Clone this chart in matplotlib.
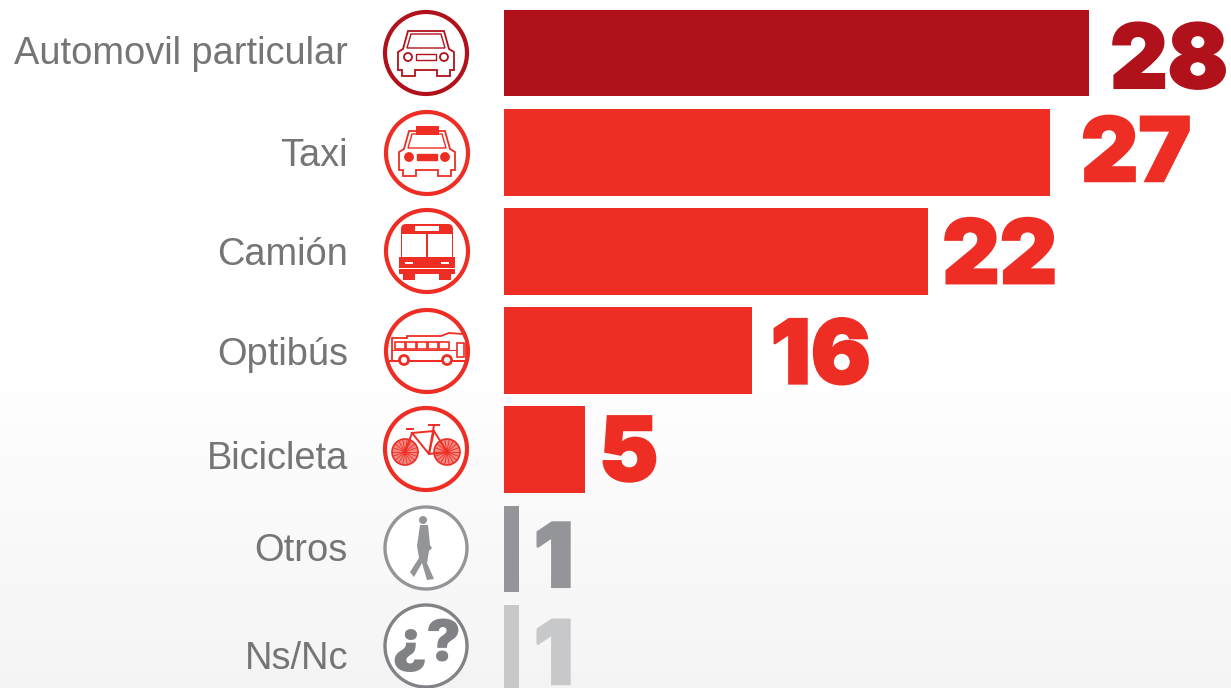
import matplotlib
matplotlib.use("Agg")
import matplotlib.pyplot as plt
import matplotlib.patheffects as pe
import numpy as np
from matplotlib.patches import Circle, Polygon, Rectangle, FancyBboxPatch

categories = ["Automovil particular", "Taxi", "Camión", "Optibús", "Bicicleta", "Otros", "Ns/Nc"]
value_labels = [28, 27, 22, 16, 5, 1, 1]
# the drawn bars are not proportional to their labels, lengths read off the picture
bar_lengths = [28.0, 26.12, 20.3, 11.85, 3.88, 0.7, 0.7]

DARK = "#b0111b"
RED = "#ee2e24"
GREY = "#939598"
LIGHT = "#c7c8ca"
bar_colors = [DARK, RED, RED, RED, RED, GREY, LIGHT]
circle_colors = [DARK, RED, RED, RED, RED, GREY, "#808285"]

W, H = 1231, 688
X0, PX_UNIT = 504, 20.9
Y0, ROW = 53, 99.2

fig = plt.figure(figsize=(W / 100, H / 100), dpi=100)

# pixel overlay for background, labels and icons
px = fig.add_axes([0, 0, 1, 1])
px.set_xlim(0, W)
px.set_ylim(H, 0)
px.axis("off")

grad = np.concatenate([np.ones(330), np.linspace(1, 0.955, H - 330)]).reshape(-1, 1)
px.imshow(grad, extent=[0, W, H, 0], cmap="gray", vmin=0, vmax=1, aspect="auto", zorder=0)

# bars
ax = fig.add_axes([0, 0, 1, 1])
ax.patch.set_alpha(0)
ax.set_xlim(-X0 / PX_UNIT, (W - X0) / PX_UNIT)
ax.set_ylim((H - Y0) / ROW, -Y0 / ROW)
ax.axis("off")
ypos = np.arange(len(categories))
ax.barh(ypos, bar_lengths, height=0.875, color=bar_colors)

label_dx = [21, 31, 14, 19, 14, 15, 15]
label_base = [35, 29, 32, 33, 31, 38, 36]
text_base = [11, 14, 14, 14, 19, 12, 21]
icon_centers = [(426, 53), (427, 153), (427, 251), (427, 351), (426, 449), (426, 548), (426, 646)]

for i, (name, val) in enumerate(zip(categories, value_labels)):
    yc = Y0 + ROW * i
    end = X0 + bar_lengths[i] * PX_UNIT
    px.text(348, yc + text_base[i], name, ha="right", va="baseline", fontsize=27.4,
            family="Liberation Sans", color="#747577", zorder=3)
    t = px.text(end + label_dx[i], yc + label_base[i], str(val), ha="left", va="baseline",
                fontsize=64, fontweight=900, family="Inter",
                color=bar_colors[i], zorder=3, clip_on=False)
    t.set_path_effects([pe.withStroke(linewidth=1.5, foreground=bar_colors[i], joinstyle="miter")])


def ring(cx, cy, col, lw):
    px.add_patch(Circle((cx, cy), 41, fc="white", ec=col, lw=lw, zorder=2))


def poly(cx, cy, pts, **kw):
    kw.setdefault("zorder", 3)
    px.add_patch(Polygon([(cx + a, cy + b) for a, b in pts], closed=True, **kw))


def rect(cx, cy, x0, y0, x1, y1, **kw):
    kw.setdefault("zorder", 3)
    px.add_patch(Rectangle((cx + x0, cy + y0), x1 - x0, y1 - y0, **kw))


def car(cx, cy, col, filled_lights):
    body = [(-18, -22), (18, -22), (23, -4), (28, -1), (28, 17), (24, 17), (24, 23), (11, 23), (11, 17),
            (-11, 17), (-11, 23), (-24, 23), (-24, 17), (-28, 17), (-28, -1), (-23, -4)]
    poly(cx, cy, body, fc="white", ec=col, lw=1.3)
    poly(cx, cy, [(-15, -19), (15, -19), (19, -5), (-19, -5)], fc="white", ec=col, lw=1.0)
    for s in (-1, 1):
        px.add_patch(Circle((cx + s * 18, cy + 4), 4, fc=col if filled_lights else "white",
                            ec=col, lw=1.3, zorder=3))
    rect(cx, cy, -10, 1, 10, 7, fc=col if filled_lights else "white", ec=col, lw=1.0)


def city_bus(cx, cy, col):
    rect(cx, cy, -24, 23, -12, 29, fc=col, lw=0)
    rect(cx, cy, 12, 23, 24, 29, fc=col, lw=0)
    px.add_patch(FancyBboxPatch((cx - 26, cy - 27), 52, 50, boxstyle="round,pad=0,rounding_size=5",
                                fc=col, ec=col, lw=0, zorder=3))
    rect(cx, cy, -28, 6, 28, 23, fc=col, lw=0)
    rect(cx, cy, -12, -25, 12, -20, fc="white", lw=0)
    rect(cx, cy, -25, -17, -0.7, 6, fc="white", lw=0)
    rect(cx, cy, 0.7, -17, 25, 6, fc="white", lw=0)
    rect(cx, cy, -28, 17, 28, 18, fc="white", lw=0)
    for s in (-1, 1):
        rect(cx, cy, s * 18 - 4, 11, s * 18 + 4, 13, fc="white", lw=0)


def long_bus(cx, cy, col):
    poly(cx, cy, [(-35, -13), (-20, -13), (-20, -15), (14, -15), (22, -18), (36, -17), (39, -10), (39, 10), (-35, 10)],
         fc="white", ec=col, lw=1.3)
    rect(cx, cy, -40, 9, 40, 11, fc=col, lw=0)
    for k in range(5):
        rect(cx, cy, -32 + k * 11, -9, -22.5 + k * 11, -2, fc="white", ec=col, lw=1.2)
    rect(cx, cy, 30, -8, 37, 6, fc="white", ec=col, lw=1.2)
    rect(cx, cy, -35, -1, 30, 0, fc=col, lw=0)
    for x in (-23, 20):
        px.add_patch(Circle((cx + x, cy + 9), 4.5, fc="white", ec=col, lw=2, zorder=4))


def bike(cx, cy, col):
    for x in (-21, 21):
        wx, wy = cx + x, cy + 3
        px.add_patch(Circle((wx, wy), 13, fc="#f28880", ec=col, lw=1.2, zorder=3))
        for a in np.deg2rad(np.arange(0, 180, 20)):
            dx, dy = 13 * np.cos(a), 13 * np.sin(a)
            px.plot([wx - dx, wx + dx], [wy - dy, wy + dy], color=col, lw=0.6, zorder=3)
    frame = [[(-21, 3), (-14, -16), (8, -18), (3, 5), (-14, -16)], [(8, -24), (3, 5), (21, 3)],
             [(8, -18), (21, 3)], [(-19, -20), (-13, -20)], [(3, -24), (13, -24)]]
    for seg in frame:
        xs, ys = zip(*seg)
        px.plot(np.array(xs) + cx, np.array(ys) + cy, color=col, lw=1.4, zorder=4)


def walker(cx, cy, col):
    px.add_patch(Circle((cx - 3, cy - 28), 4, fc=col, lw=0, zorder=3))
    poly(cx, cy, [(-6, -23), (2, -23), (4, -3), (6, 0), (3, 3), (1, 15), (8, 31), (1, 32),
                  (-4, 15), (-12, 29), (-16, 24), (-7, 10), (-9, -2)], fc=col, lw=0)


for i, (cx, cy) in enumerate(icon_centers):
    col = circle_colors[i]
    ring(cx, cy, col, 3.0 if i < 5 else 2.4)

car(*icon_centers[0], DARK, False)
car(*icon_centers[1], RED, True)
rect(*icon_centers[1], -11, -27, 12, -18, fc=RED, lw=0)
city_bus(*icon_centers[2], RED)
long_bus(*icon_centers[3], RED)
bike(*icon_centers[4], RED)
walker(*icon_centers[5], GREY)
qx, qy = icon_centers[6]
px.text(qx, qy + 15, "¿?", ha="center", va="baseline", fontsize=42, fontweight=900,
        family="Inter", color="#808285", zorder=3)

fig.savefig("out.png", dpi=100)
